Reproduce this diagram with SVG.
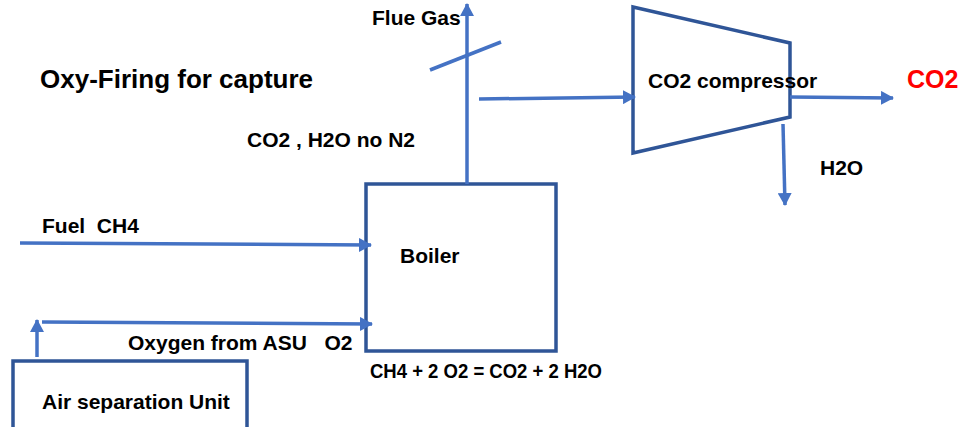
<svg xmlns="http://www.w3.org/2000/svg" width="975" height="427" viewBox="0 0 975 427">
<style>
text{font-family:"Liberation Sans",Arial,sans-serif;font-weight:bold;fill:#000;}
.t21{font-size:21px;}
.box{fill:#fff;stroke:#2F5597;stroke-width:3.5;}
.conn{fill:none;stroke:#4472C4;stroke-width:3.5;}
</style>
<defs>
<marker id="ah" markerUnits="userSpaceOnUse" markerWidth="14" markerHeight="14" viewBox="0 0 14 14" refX="12" refY="7" orient="auto">
<path d="M0,0 L13,7 L0,14 Z" fill="#4472C4"/>
</marker>
</defs>
<rect width="975" height="427" fill="#fff"/>
<text x="40" y="88" style="font-size:26px">Oxy-Firing for capture</text>
<g id="boiler">
<rect class="box" x="366" y="184" width="190" height="167"/>
<text class="t21" x="400" y="263">Boiler</text>
<text x="370" y="378" style="font-size:20px" textLength="232" lengthAdjust="spacingAndGlyphs">CH4 + 2 O2 = CO2 + 2 H2O</text>
</g>
<g id="asu">
<rect class="box" x="13" y="361" width="234" height="70"/>
<text class="t21" x="42" y="409">Air separation Unit</text>
</g>
<g id="compressor">
<path class="box" d="M633,7 L790,43 L790,117 L633,153 Z"/>
<text class="t21" x="648" y="88">CO2 compressor</text>
</g>
<g id="connectors">
<line class="conn" x1="467" y1="184" x2="467" y2="4" marker-end="url(#ah)"/>
<line class="conn" x1="430" y1="70" x2="501" y2="42"/>
<line class="conn" x1="479" y1="99" x2="635" y2="97" marker-end="url(#ah)"/>
<line class="conn" x1="790" y1="97" x2="893" y2="98" marker-end="url(#ah)"/>
<line class="conn" x1="783" y1="124" x2="785" y2="205" marker-end="url(#ah)"/>
<line class="conn" x1="20" y1="243" x2="371" y2="245" marker-end="url(#ah)"/>
<line class="conn" x1="42" y1="322" x2="372" y2="324" marker-end="url(#ah)"/>
<line class="conn" x1="37" y1="357" x2="37" y2="320" marker-end="url(#ah)"/>
</g>
<g id="labels">
<text class="t21" x="372" y="25">Flue Gas</text>
<text class="t21" x="247" y="147">CO2 , H2O no N2</text>
<text class="t21" x="42" y="233" xml:space="preserve">Fuel  CH4</text>
<text class="t21" x="128" y="350" xml:space="preserve">Oxygen from ASU   O2</text>
<text class="t21" x="820" y="175">H2O</text>
<text x="907" y="88" style="font-size:25px;fill:#FF0000">CO2</text>
</g>
</svg>
